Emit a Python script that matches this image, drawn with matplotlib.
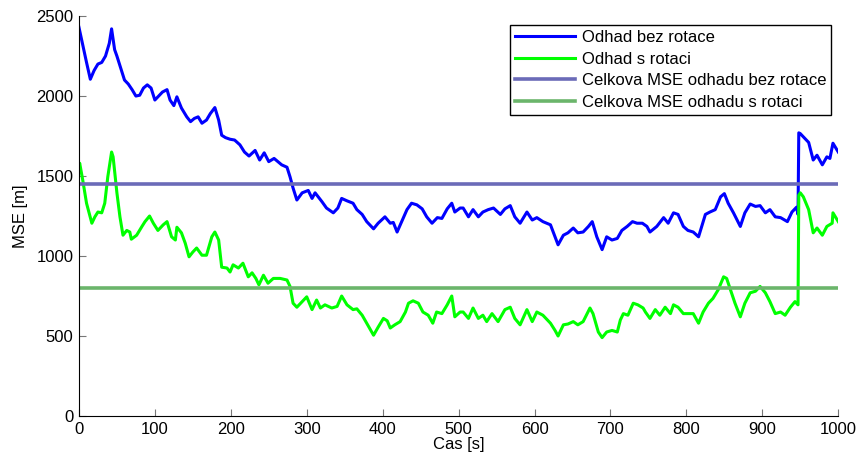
import matplotlib.pyplot as plt
import numpy as np

plt.rcParams['font.family'] = ['Liberation Sans', 'DejaVu Sans']

# odhad bez rotace (cteno z obrazku)
t_bez = [0, 5, 10, 15, 20, 25, 30, 35, 40, 43, 47, 50, 55, 60, 65, 70, 75, 80, 85, 90,
         95, 100, 105, 110, 116, 120, 125, 129, 135, 142, 147, 152, 157, 162, 168, 173, 179,
         184, 188, 193, 199, 205, 212, 218, 224, 232, 238, 244, 250, 257, 267, 274, 278,
         282, 287, 294, 302, 307, 311, 320, 326, 335, 341, 346, 353, 361, 366, 373, 379,
         388, 394, 403, 410, 414, 419, 425, 432, 438, 445, 452, 458, 465, 472, 478, 485,
         491, 495, 502, 506, 513, 519, 526, 532, 539, 546, 555, 561, 568, 574, 581, 590,
         597, 603, 611, 621, 627, 631, 638, 644, 651, 657, 664, 671, 676, 682, 689, 695,
         702, 709, 715, 722, 729, 735, 742, 748, 752, 761, 770, 776, 783, 789, 796, 802,
         809, 816, 825, 831, 838, 845, 850, 855, 862, 871, 877, 884, 891, 897, 904, 910,
         917, 924, 933, 939, 945, 947, 948, 950, 954, 961, 967, 972, 979, 985, 989, 993,
         1000]
mse_bez = [2430, 2320, 2210, 2105, 2160, 2200, 2210, 2250, 2330, 2420, 2290, 2250, 2175,
           2100, 2075, 2040, 2000, 2005, 2050, 2070, 2050, 1975, 2000, 2025, 2040, 1975,
           1940, 1995, 1925, 1870, 1840, 1860, 1870, 1830, 1850, 1890, 1928, 1850, 1755,
           1740, 1730, 1725, 1695, 1650, 1625, 1660, 1600, 1645, 1590, 1610, 1570, 1555,
           1495, 1425, 1350, 1395, 1410, 1360, 1395, 1340, 1300, 1270, 1300, 1360, 1345,
           1330, 1290, 1260, 1215, 1170, 1205, 1245, 1205, 1210, 1150, 1215, 1290, 1330,
           1320, 1295, 1245, 1205, 1240, 1235, 1295, 1330, 1275, 1300, 1300, 1245, 1290,
           1245, 1275, 1290, 1300, 1260, 1295, 1315, 1245, 1205, 1275, 1225, 1240, 1215,
           1195, 1120, 1070, 1130, 1145, 1175, 1145, 1150, 1185, 1215, 1120, 1040, 1120,
           1100, 1110, 1160, 1185, 1215, 1205, 1205, 1185, 1150, 1185, 1240, 1205, 1270,
           1260, 1185, 1160, 1150, 1120, 1260, 1275, 1290, 1370, 1390, 1330, 1270, 1185,
           1270, 1325, 1310, 1315, 1270, 1290, 1245, 1240, 1215, 1275, 1305, 1260, 1770,
           1765, 1745, 1710, 1600, 1630, 1570, 1620, 1610, 1705, 1650]

# odhad s rotaci
t_s = [0, 1, 5, 10, 17, 21, 25, 30, 34, 38, 43, 45, 50, 54, 58, 63, 67, 69, 76, 83, 87,
       93, 98, 104, 111, 116, 122, 127, 129, 135, 140, 145, 150, 155, 162, 168, 175, 179,
       184, 188, 195, 199, 203, 210, 216, 223, 228, 233, 237, 243, 249, 256, 265, 274,
       278, 282, 287, 294, 300, 307, 313, 318, 324, 333, 340, 346, 353, 361, 366, 373,
       379, 388, 394, 401, 406, 410, 416, 423, 430, 434, 440, 447, 453, 460, 466, 471,
       478, 485, 491, 495, 502, 506, 513, 519, 526, 532, 537, 544, 552, 561, 568, 574,
       581, 590, 597, 603, 611, 621, 627, 631, 638, 644, 651, 657, 664, 673, 677, 684,
       689, 695, 702, 709, 713, 717, 723, 730, 736, 743, 746, 752, 759, 765, 772, 779,
       783, 789, 796, 802, 809, 816, 822, 829, 835, 842, 849, 853, 858, 864, 871, 877,
       884, 891, 897, 904, 910, 917, 924, 930, 937, 943, 947, 948, 950, 954, 961, 967,
       972, 979, 985, 992, 993, 1000]
mse_s = [1560, 1580, 1475, 1330, 1205, 1245, 1275, 1270, 1330, 1495, 1650, 1620, 1395,
         1245, 1130, 1160, 1150, 1105, 1130, 1185, 1215, 1250, 1205, 1160, 1195, 1215,
         1120, 1100, 1180, 1145, 1080, 995, 1025, 1050, 1005, 1005, 1120, 1150, 1100, 930,
         925, 900, 945, 925, 955, 870, 895, 860, 820, 880, 830, 860, 860, 850, 810, 705,
         680, 715, 745, 665, 725, 675, 695, 675, 685, 750, 695, 665, 670, 630, 580, 505,
         555, 610, 595, 550, 570, 590, 650, 705, 720, 705, 650, 630, 580, 650, 640, 695,
         750, 620, 650, 650, 610, 675, 610, 630, 590, 640, 590, 665, 680, 610, 570, 665,
         590, 650, 630, 580, 535, 500, 570, 575, 590, 570, 590, 675, 640, 525, 490, 525,
         535, 525, 600, 640, 630, 705, 695, 675, 650, 610, 665, 630, 680, 640, 695, 680,
         640, 640, 640, 580, 650, 705, 735, 790, 870, 860, 790, 705, 620, 705, 770, 780,
         810, 770, 715, 640, 650, 630, 680, 715, 695, 1380, 1395, 1370, 1290, 1145, 1175,
         1130, 1185, 1205, 1270, 1215]

mse_celk_bez = 1450
mse_celk_s = 800

fig = plt.figure(figsize=(8.58, 4.61), dpi=100)
ax = fig.add_axes([0.092, 0.0976, 0.885, 0.8676])

ax.plot(t_bez, mse_bez, color=(0, 0, 1), lw=2.2, label='Odhad bez rotace')
ax.plot(t_s, mse_s, color=(0, 1, 0), lw=2.2, label='Odhad s rotaci')
ax.axhline(mse_celk_bez, color=(0.42, 0.42, 0.72), lw=2.6, label='Celkova MSE odhadu bez rotace')
ax.axhline(mse_celk_s, color=(0.42, 0.71, 0.42), lw=2.6, label='Celkova MSE odhadu s rotaci')

ax.set_xlim(0, 1000)
ax.set_ylim(0, 2500)
ax.set_xticks(np.arange(0, 1001, 100))
ax.set_yticks(np.arange(0, 2501, 500))
ax.spines['top'].set_visible(False)
ax.spines['right'].set_visible(False)
ax.tick_params(direction='in', length=5, labelsize=12, color='#777777', pad=4)
ax.set_xlabel('Cas [s]', fontsize=12, labelpad=0)
ax.set_ylabel('MSE [m]', fontsize=12, labelpad=6)

leg = ax.legend(loc='upper right', bbox_to_anchor=(0.991, 0.978), fontsize=12,
                fancybox=False, framealpha=1, edgecolor='black', borderpad=0.3,
                labelspacing=0.4, handlelength=3.6, handletextpad=0.4, borderaxespad=0)
leg.get_frame().set_linewidth(1.0)

fig.savefig('out.png', dpi=100)
